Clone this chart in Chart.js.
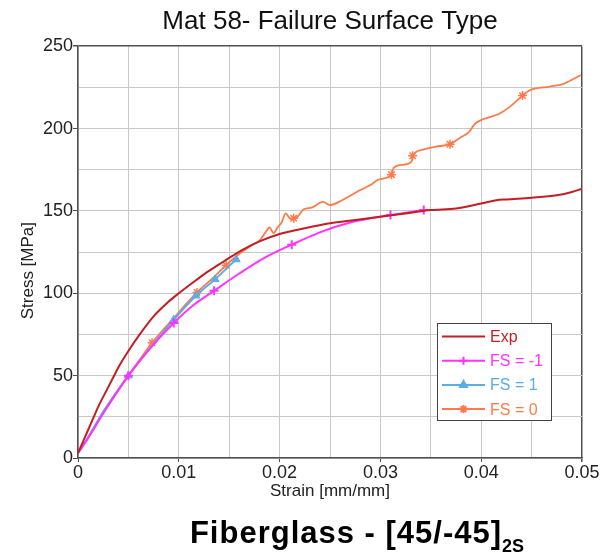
<!DOCTYPE html>
<html>
<head>
<meta charset="utf-8">
<script src="https://cdn.jsdelivr.net/npm/chart.js@4.4.0/dist/chart.umd.min.js"></script>
<style>
  html, body { margin: 0; padding: 0; background: #fff; overflow: hidden; }
  #wrap { position: relative; width: 606px; height: 558px; }
  #caption {
    position: absolute; left: 357px; top: 515px; transform: translateX(-50%);
    white-space: nowrap; font-family: 'Liberation Sans', Arial, sans-serif;
    font-weight: bold; font-size: 31px; line-height: 36px; letter-spacing: 1px; color: #000;
  }
  #caption span { font-size: 18px; vertical-align: -9px; letter-spacing: 0; }
</style>
</head>
<body>
<div id="wrap">
  <canvas id="myChart" width="606" height="558"></canvas>
  <div id="caption">Fiberglass - [45/-45]<span>2S</span></div>
</div>
<script>
// Exp
const expStrain = [0, 0.0005, 0.001, 0.0015, 0.002, 0.003, 0.0035, 0.004, 0.005, 0.006, 0.0075, 0.009, 0.01,
    0.0115, 0.0125, 0.014, 0.015, 0.0165, 0.018, 0.02, 0.0225, 0.025, 0.0275, 0.03, 0.0325, 0.035, 0.0375,
    0.04, 0.0415, 0.0425, 0.045, 0.0475, 0.049, 0.05];
const expStress = [3, 10, 17, 24, 31, 43, 49, 55, 65, 74, 86, 95, 100,
    107, 111.5, 117.5, 121.5, 127, 131.5, 136, 139.5, 142.5, 144.5, 146.5, 148.5, 150.5, 151.5,
    154.5, 156.5, 157, 158, 159.5, 161.5, 163.5];

// FS = -1
const fsM1Strain = [0, 0.001, 0.0025, 0.005, 0.0075, 0.0095, 0.0115, 0.0135, 0.016, 0.0185, 0.0212, 0.024, 0.027, 0.031, 0.0343];
const fsM1Stress = [3, 12, 27, 50, 69, 82, 93, 101.5, 112, 121.5, 129.5, 137, 143, 147.5, 150.5];
const fsM1Marks = [0.005, 0.0095, 0.0135, 0.0212, 0.031, 0.0343];

// FS = 1
const fs1Strain = [0, 0.001, 0.0025, 0.005, 0.0075, 0.0095, 0.0117, 0.0136, 0.0157, 0.0159];
const fs1Stress = [3, 12.5, 28, 50, 69.5, 84, 98.5, 108.5, 120.5, 121.5];
const fs1Marks = [0.005, 0.0095, 0.0117, 0.0136, 0.0157];

// FS = 0
const fs0Strain = [0, 0.001, 0.0025, 0.005, 0.00735, 0.0095, 0.0118, 0.0135, 0.0147, 0.016, 0.0171, 0.018,
    0.0186, 0.019, 0.0194, 0.0198, 0.0202, 0.0206, 0.0211, 0.0214, 0.0217, 0.0224, 0.0232, 0.0243, 0.025,
    0.0262, 0.0271, 0.0281, 0.0291, 0.0298, 0.0311, 0.0313, 0.0322, 0.0331, 0.0332, 0.0341, 0.0355, 0.0369,
    0.0378, 0.0388, 0.0394, 0.0401, 0.0418, 0.0428, 0.0441, 0.0449, 0.0468, 0.0481, 0.0488, 0.0499];
const fs0Stress = [3, 12.5, 28, 50, 70, 85, 100.5, 110, 117, 124, 128.5, 132,
    137, 140, 136.5, 140, 143, 148.5, 145, 145.5, 146, 151, 152, 155.5, 153.5,
    156.5, 159.5, 163, 166, 169, 172, 176, 178, 180, 183.5, 187, 189, 190.5,
    194, 198, 203, 205.5, 209, 213, 220, 223.5, 225.5, 227, 229, 232.5];
const fs0Marks = [0.00735, 0.0118, 0.0147, 0.0214, 0.0311, 0.0332, 0.0369, 0.0441];

const xTicksMajor = [0, 0.01, 0.02, 0.03, 0.04, 0.05];
const yTicksMajor = [0, 50, 100, 150, 200, 250];

const FONT = "'Liberation Sans', Arial, sans-serif";
const AXIS = '#505050';
const GRID = '#c8c8c8';

const toPoints = (xs, ys) => xs.map((x, i) => ({ x: x, y: ys[i] }));
const near = (a, b) => Math.abs(a - b) < 1e-9;
const markRadius = (marks, r) => ctx => (ctx.raw && marks.some(m => near(m, ctx.raw.x))) ? r : 0;

// legend drawn inside the plot area, lower right
const innerLegend = {
    id: 'innerLegend',
    afterDraw(chart) {
        const { ctx, chartArea } = chart;
        const w = 114, h = 97;
        const left = chartArea.right - 31 - w;
        const top = chartArea.bottom - 38 - h;
        ctx.save();
        ctx.fillStyle = '#fff';
        ctx.fillRect(left, top, w, h);
        ctx.strokeStyle = '#444';
        ctx.lineWidth = 1;
        ctx.strokeRect(left + 0.5, top + 0.5, w, h);
        ctx.font = '16px ' + FONT;
        ctx.textBaseline = 'middle';
        chart.data.datasets.forEach((ds, i) => {
            const y = top + 13.5 + i * 24.2;
            ctx.strokeStyle = ds.borderColor;
            ctx.lineWidth = 2;
            ctx.beginPath();
            ctx.moveTo(left + 5, y);
            ctx.lineTo(left + 48, y);
            ctx.stroke();
            if (ds.pointStyle) {
                ctx.fillStyle = ds.borderColor;
                Chart.helpers.drawPoint(ctx, {
                    pointStyle: ds.pointStyle, radius: 4, borderWidth: ds.pointBorderWidth || 1, rotation: 0
                }, left + 26.5, y);
            }
            ctx.fillStyle = ds.borderColor;
            ctx.fillText(ds.label, left + 53, y + 1);
        });
        // y axis title, drawn by hand to sit where the original has it
        ctx.translate(28.5, chartArea.top + (chartArea.bottom - chartArea.top) * 0.545);
        ctx.rotate(-Math.PI / 2);
        ctx.fillStyle = '#222';
        ctx.font = '17px ' + FONT;
        ctx.textAlign = 'center';
        ctx.fillText('Stress [MPa]', 0, 0);
        ctx.restore();
    }
};

const ctx = document.getElementById('myChart').getContext('2d');
new Chart(ctx, {
    type: 'line',
    data: {
        datasets: [
            {
                label: 'Exp', data: toPoints(expStrain, expStress),
                borderColor: '#c41e24', borderWidth: 2, pointRadius: 0, fill: false
            },
            {
                label: 'FS = -1', data: toPoints(fsM1Strain, fsM1Stress),
                borderColor: '#ff33ff', backgroundColor: '#ff33ff', borderWidth: 2,
                pointStyle: 'cross', pointRadius: markRadius(fsM1Marks, 4.5), pointBorderWidth: 2, fill: false
            },
            {
                label: 'FS = 1', data: toPoints(fs1Strain, fs1Stress),
                borderColor: '#5aaee8', backgroundColor: '#5aaee8', borderWidth: 2,
                pointStyle: 'triangle', pointRadius: markRadius(fs1Marks, 4.5), pointBorderWidth: 1, fill: false
            },
            {
                label: 'FS = 0', data: toPoints(fs0Strain, fs0Stress),
                borderColor: '#ff7a4a', backgroundColor: '#ff7a4a', borderWidth: 1.8,
                pointStyle: 'star', pointRadius: markRadius(fs0Marks, 4.5), pointBorderWidth: 1.5, fill: false
            }
        ]
    },
    options: {
        responsive: false,
        animation: false,
        datasets: { line: { cubicInterpolationMode: 'monotone' } },
        layout: { padding: { left: 0, right: 24, top: 0, bottom: 56 } },
        plugins: {
            legend: { display: false },
            tooltip: { enabled: false },
            title: {
                display: true, fullSize: false, text: 'Mat 58- Failure Surface Type', color: '#111',
                font: { family: FONT, size: 26, weight: 'normal' }, padding: { top: 6, bottom: 9 }
            }
        },
        scales: {
            x: {
                type: 'linear', min: 0, max: 0.05,
                afterFit: s => { s.height = 44; },
                ticks: {
                    stepSize: 0.005, padding: 0, color: '#222', maxRotation: 0, autoSkip: false,
                    font: { family: FONT, size: 18 },
                    callback: v => xTicksMajor.some(t => near(t, v)) ? String(+v.toFixed(2)) : ''
                },
                grid: {
                    color: c => near(c.tick.value, 0.05) ? AXIS : GRID,
                    lineWidth: c => near(c.tick.value, 0.05) ? 1.5 : 1,
                    tickLength: 4,
                    tickColor: c => xTicksMajor.some(t => near(t, c.tick.value)) ? AXIS : 'rgba(0,0,0,0)'
                },
                border: { color: AXIS, width: 1.5 },
                title: {
                    display: true, text: 'Strain [mm/mm]', color: '#222',
                    font: { family: FONT, size: 17 }, padding: 0
                }
            },
            y: {
                min: 0, max: 250,
                afterFit: s => { s.width = 78; },
                ticks: {
                    stepSize: 25, padding: 0, color: '#222',
                    font: { family: FONT, size: 18 },
                    callback: v => yTicksMajor.includes(v) ? String(v) : ''
                },
                grid: {
                    color: c => c.tick.value === 250 ? AXIS : GRID,
                    lineWidth: c => c.tick.value === 250 ? 1.5 : 1,
                    tickLength: 5,
                    tickColor: c => yTicksMajor.includes(c.tick.value) ? AXIS : 'rgba(0,0,0,0)'
                },
                border: { color: AXIS, width: 1.5 },
                title: { display: false }
            }
        }
    },
    plugins: [innerLegend]
});
</script>
</body>
</html>
